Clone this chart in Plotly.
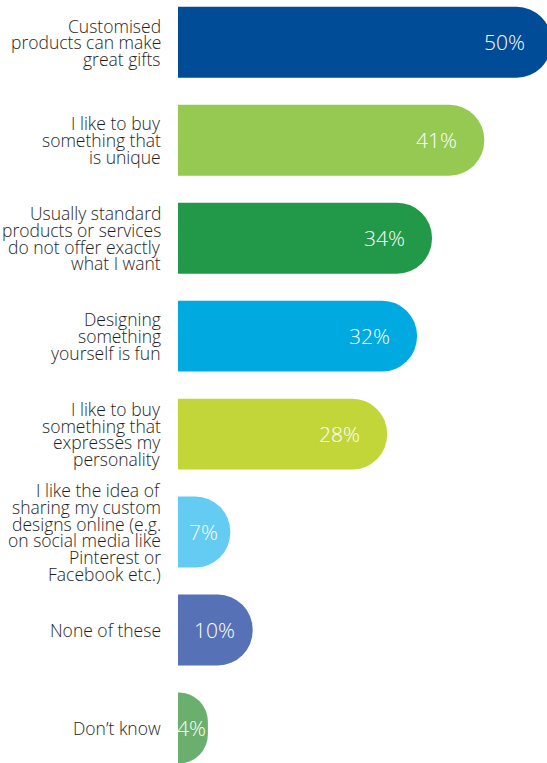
import plotly.graph_objects as go

categories = [
    "Customised\nproducts can make\ngreat gifts",
    "I like to buy\nsomething that\nis unique",
    "Usually standard\nproducts or services\ndo not offer exactly\nwhat I want",
    "Designing\nsomething\nyourself is fun",
    "I like to buy\nsomething that\nexpresses my\npersonality",
    "I like the idea of\nsharing my custom\ndesigns online (e.g.\non social media like\nPinterest or\nFacebook etc.)",
    "None of these",
    "Don\u2019t know",
]
values = [50, 41, 34, 32, 28, 7, 10, 4]
colors = ["#004C97", "#96C952", "#229849", "#00A9E0", "#C2D63A", "#64CBF2", "#5671B5", "#6AAF6D"]

keys = [c.replace("\n", " ") for c in categories]

FIG_W, FIG_H = 565, 763
LEFT = 178
PX_PER_UNIT = 7.47
X_MAX = (FIG_W - LEFT) / PX_PER_UNIT

fig = go.Figure(
    go.Bar(
        x=values,
        y=keys,
        orientation="h",
        width=0.724,
        marker=dict(color=colors, cornerradius="50%", line=dict(width=0)),
        hoverinfo="skip",
    )
)

LABEL_FONT = dict(family="Open Sans", size=17.5, color="#1e1e1e", weight=300)
VALUE_FONT = dict(family="Open Sans", size=21, color="#FFFFFF", weight=300)
LINE_STEP = 16.7

annotations = []
for cat, key in zip(categories, keys):
    lines = cat.split("\n")
    n = len(lines)
    for j, line in enumerate(lines):
        annotations.append(dict(
            x=0, xref="x", xanchor="right", xshift=-15,
            y=key, yref="y", yanchor="middle", yshift=((n - 1) / 2 - j) * LINE_STEP,
            text=line, showarrow=False, font=LABEL_FONT,
        ))

for key, v in zip(keys, values):
    if v >= 15:
        annotations.append(dict(
            x=v, xref="x", xanchor="right", xshift=-25,
            y=key, yref="y", yanchor="middle",
            text=f"{v}%", showarrow=False, font=VALUE_FONT,
        ))
    else:
        annotations.append(dict(
            x=v / 2, xref="x", xanchor="center", xshift=-1,
            y=key, yref="y", yanchor="middle",
            text=f"{v}%", showarrow=False, font=VALUE_FONT,
        ))

fig.update_layout(
    width=FIG_W, height=FIG_H,
    margin=dict(l=LEFT, r=0, t=0, b=0, pad=0),
    paper_bgcolor="white", plot_bgcolor="white",
    showlegend=False,
    hovermode=False,
    xaxis=dict(range=[0, X_MAX], visible=False, fixedrange=True),
    yaxis=dict(type="category", range=[7.357, -0.431], visible=False, fixedrange=True),
    annotations=annotations,
)

fig.write_html(
    "out.html",
    config={"displayModeBar": False, "staticPlot": True},
    post_script="document.body.style.margin='0';document.body.style.overflow='hidden';",
)
